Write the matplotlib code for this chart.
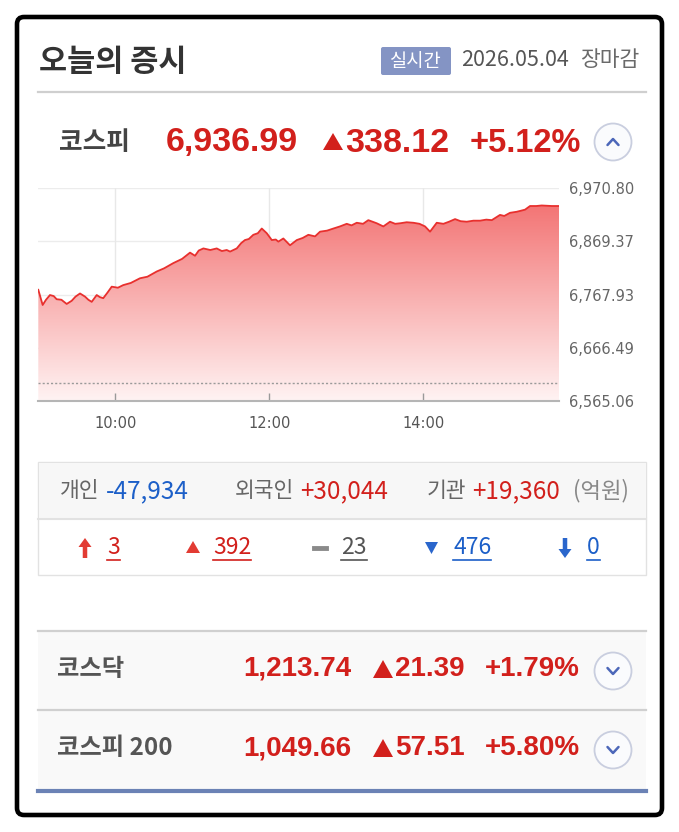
import numpy as np
import matplotlib.pyplot as plt
from matplotlib.patches import FancyBboxPatch, Rectangle, Circle, Polygon, FancyArrow
from matplotlib.colors import LinearSegmentedColormap

#### Canvas ####
W, H = 679, 832
KR = ['Noto Sans CJK KR', 'DejaVu Sans']
NUM = ['Liberation Sans', 'DejaVu Sans']
RED = '#d2201c'
BLUE = '#1c5fc8'
GRAY = '#555555'

#### Data ####
# intraday KOSPI, minutes after 09:00
minutes = [0, 2, 3.4, 6, 9.1, 12, 14.3, 18, 22.1, 26, 29, 32.5, 36.4, 39, 41.6,
           45.5, 48, 50.6, 54, 57.2, 62, 66.2, 72, 79.2, 85, 92.3, 98, 105.2, 112,
           118.2, 122.1, 125, 128.6, 134, 139, 143, 146.8, 149.4, 154.6, 158, 161,
           164, 167.5, 171, 174.1, 178, 181.9, 185, 187, 190.9, 196.1, 201.4, 206,
           210.4, 215.6, 219.5, 225, 229.9, 235, 240.3, 244, 248.1, 253, 257.1,
           263.7, 268.8, 274, 278, 281.8, 287, 292.2, 297, 301.3, 305.2, 310.4,
           315.6, 320, 324.7, 329, 333.8, 339, 344.2, 349, 353.3, 359.7, 363, 367.5,
           372.7, 376, 379.2, 383.1, 388, 392.2, 400, 405.9]
kospi = [6777, 6760, 6748, 6758, 6767, 6765, 6759, 6758, 6750, 6756, 6764, 6770,
         6764, 6758, 6754, 6767, 6763, 6761, 6772, 6783, 6781, 6786, 6790, 6799,
         6802, 6812, 6818, 6828, 6836, 6848, 6842, 6852, 6856, 6853, 6856, 6851,
         6853, 6850, 6856, 6866, 6872, 6874, 6882, 6885, 6894, 6885, 6872, 6873,
         6869, 6875, 6862, 6872, 6876, 6882, 6879, 6888, 6890, 6894, 6898, 6903,
         6900, 6905, 6903, 6910, 6904, 6898, 6907, 6903, 6904, 6906, 6905, 6903,
         6898, 6888, 6905, 6903, 6907, 6912, 6908, 6907, 6909, 6909, 6911, 6910,
         6920, 6918, 6924, 6926, 6928, 6930, 6937, 6937, 6938, 6937, 6936.99]
prev_close = 6598.87
y_ticks = [6565.06, 6666.49, 6767.93, 6869.37, 6970.80]
x_ticks = [60, 180, 300]
x_labels = ['10:00', '12:00', '14:00']

index_names = ['코스피', '코스닥', '코스피 200']
index_values = [6936.99, 1213.74, 1049.66]
index_changes = [338.12, 21.39, 57.51]
index_pcts = [5.12, 1.79, 5.80]

investors = ['개인', '외국인', '기관']
investor_net = [-47934, 30044, 19360]

breadth = [3, 392, 23, 476, 0]   # 상한, 상승, 보합, 하락, 하한

fig = plt.figure(figsize=(W / 100, H / 100), dpi=100)
bg = fig.add_axes([0, 0, 1, 1])
bg.set_xlim(0, W)
bg.set_ylim(H, 0)
bg.axis('off')

#### Frame ####
bg.add_patch(FancyBboxPatch((17, 17), 645, 798, boxstyle='round,pad=0,rounding_size=7',
                            fc='white', ec='black', lw=3.3))

#### Header ####
bg.text(39, 62, '오늘의 증시', fontsize=22, fontweight='bold', color='#333333',
        family=KR, va='center')
bg.add_patch(FancyBboxPatch((381, 47), 70, 28, boxstyle='round,pad=0,rounding_size=2',
                            fc='#8494c4', ec='none'))
bg.text(416, 61, '실시간', fontsize=13.5, color='white', family=KR, ha='center', va='center')
bg.text(461, 60, '2026.05.04', fontsize=15.5, color='#555555', family=KR, va='center')
bg.text(580, 60, '장마감', fontsize=15.5, color='#6a6a6a', family=KR, va='center')
bg.plot([38, 646], [92, 92], color='#cfcfcf', lw=1.6)


def chevron(x, y, up):
    bg.add_patch(Circle((x, y), 18.5, fc='#fafbfd', ec='#c9cedf', lw=1.3))
    d = -1 if up else 1
    bg.plot([x - 5.5, x, x + 5.5], [y - 3 * d, y + 3 * d, y - 3 * d], color='#4c67b9',
            lw=1.8, solid_capstyle='round')


def up_tri(x0, x1, ytop, ybot, color):
    bg.add_patch(Polygon([(x0, ybot), (x1, ybot), ((x0 + x1) / 2, ytop)], fc=color, ec='none'))


#### Main index row ####
bg.text(59, 143, index_names[0], fontsize=18.5, fontweight='bold', color='#444444',
        family=KR, va='center')
bg.text(166, 143, f'{index_values[0]:,.2f}', fontsize=24.5, fontweight='bold', color=RED,
        family=NUM, va='center')
up_tri(323, 343, 133, 150, RED)
bg.text(345, 143, f'{index_changes[0]:,.2f}', fontsize=24.5, fontweight='bold', color=RED,
        family=NUM, va='center')
bg.text(470, 143, f'+{index_pcts[0]:.2f}%', fontsize=23.5, fontweight='bold', color=RED,
        family=NUM, va='center')
chevron(613, 142, True)

#### Chart ####
x0, x1, ytop, ybot = 38.3, 559.3, 188.3, 400.8
ax = fig.add_axes([x0 / W, 1 - ybot / H, (x1 - x0) / W, (ybot - ytop) / H])
ax.set_xlim(0, 405.9)
ax.set_ylim(y_ticks[0], y_ticks[-1])
ax.patch.set_alpha(0)
for s in ['top', 'left', 'right']:
    ax.spines[s].set_visible(False)
ax.spines['bottom'].set_color('#b5b5b5')
ax.spines['bottom'].set_linewidth(1.5)
for v in y_ticks[1:]:
    ax.axhline(v, color='#ececec', lw=1, zorder=0)
for v in x_ticks:
    ax.axvline(v, color='#e8e8e8', lw=1, zorder=0)

grad = LinearSegmentedColormap.from_list('g', ['#fff3f3', '#f26a6a'])
img = ax.imshow(np.linspace(0, 1, 256).reshape(-1, 1), cmap=grad, aspect='auto',
                origin='lower', extent=[0, 405.9, y_ticks[0], y_ticks[-1]], zorder=1)
poly = ax.fill_between(minutes, kospi, y_ticks[0], color='none', lw=0)
img.set_clip_path(poly.get_paths()[0], transform=ax.transData)
ax.plot(minutes, kospi, color='#e8302e', lw=1.3, zorder=3)
ax.axhline(prev_close, color='#9a9a9a', lw=1, ls=(0, (1.5, 1.5)), zorder=2)

ax.set_xticks(x_ticks)
ax.set_xticklabels(x_labels)
ax.tick_params(axis='x', direction='in', length=6, color='#9a9a9a', width=1, pad=11,
               labelsize=10.5, labelcolor='#555555')
ax.yaxis.tick_right()
ax.set_yticks(y_ticks)
ax.set_yticklabels([f'{v:,.2f}' for v in y_ticks])
ax.tick_params(axis='y', length=0, pad=7, labelsize=10.5, labelcolor='#666666')

#### Investor box ####
bg.add_patch(Rectangle((38, 462), 608, 113, fc='white', ec='#e2e2e2', lw=1))
bg.add_patch(Rectangle((38.5, 462.5), 607, 56, fc='#f7f7f7', ec='none'))
bg.plot([38, 646], [519, 519], color='#e2e2e2', lw=1.5)

inv_x = [60, 235, 427]
for name, val, xx in zip(investors, investor_net, inv_x):
    t = bg.text(xx, 491, name, fontsize=15.5, color='#666666', family=KR, va='center')
    fig.canvas.draw()
    bb = t.get_window_extent()
    bg.text(bb.x1 + 6, 491, f'{val:+,}', fontsize=17.5,
            color=BLUE if val < 0 else RED, family=KR, va='center')
bg.text(573, 491, '(억원)', fontsize=16, color='#888888', family=KR, va='center')

# breadth row
yb = 548
cols = [RED, RED, GRAY, BLUE, BLUE]
num_x = [107, 213, 341, 453, 587]
bg.add_patch(FancyArrow(85, 558, 0, -20, width=4.5, head_width=13, head_length=9,
                        length_includes_head=True, fc='#e23b33', ec='none'))
up_tri(186, 200, 541, 553, '#e23b33')
bg.plot([314, 326], [yb, yb], color='#8a8a8a', lw=3.5)
bg.add_patch(Polygon([(425, 542), (438, 542), (431.5, 554)], fc='#2a66cc', ec='none'))
bg.add_patch(FancyArrow(565, 538, 0, 20, width=4.5, head_width=13, head_length=9,
                        length_includes_head=True, fc='#2a66cc', ec='none'))
for n, c, xx in zip(breadth, cols, num_x):
    t = bg.text(xx, yb, str(n), fontsize=16.5, color=c, family=KR, va='center')
    fig.canvas.draw()
    bb = t.get_window_extent()
    bg.plot([bb.x0, bb.x1], [yb + 12, yb + 12], color=c, lw=1.2)

#### Other indices ####
bg.add_patch(Rectangle((38, 631), 608, 160, fc='#f9f9f9', ec='none'))
bg.plot([38, 646], [631, 631], color='#d0d0d0', lw=1.6)
bg.plot([38, 646], [710, 710], color='#d0d0d0', lw=1.6)
bg.plot([38, 646], [791, 791], color='#6b82b5', lw=3)
for i, yy in zip([1, 2], [669, 748]):
    bg.text(57, yy, index_names[i], fontsize=17.5, fontweight='bold', color='#555555',
            family=KR, va='center')
    bg.text(243, yy, f'{index_values[i]:,.2f}', fontsize=20, fontweight='bold', color=RED,
            family=NUM, va='center')
    up_tri(373, 393, yy - 9, yy + 9, RED)
    bg.text(395, yy, f'{index_changes[i]:,.2f}', fontsize=20, fontweight='bold', color=RED,
            family=NUM, va='center')
    bg.text(485, yy, f'+{index_pcts[i]:.2f}%', fontsize=20, fontweight='bold', color=RED,
            family=NUM, va='center')
    chevron(613, yy + 2, False)

fig.savefig('out.png', dpi=100)
